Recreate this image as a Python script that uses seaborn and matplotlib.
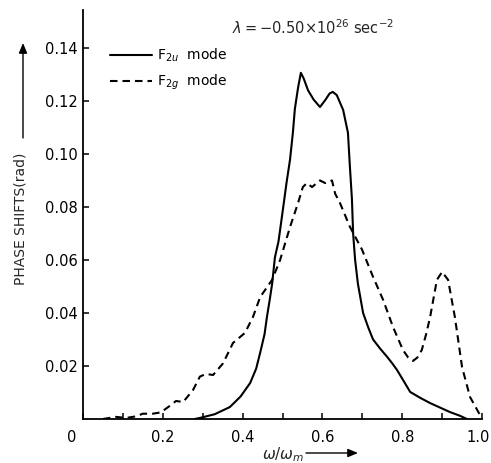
import numpy as np
import pandas as pd
import matplotlib
matplotlib.use("Agg")
import matplotlib.pyplot as plt
import matplotlib.transforms as mtransforms
import seaborn as sns

# ---- data ----
f2u_x = [0.28, 0.293, 0.33, 0.368, 0.395, 0.419, 0.434, 0.444, 0.455, 0.461, 0.468, 0.474,
         0.481, 0.490, 0.501, 0.510, 0.519, 0.526, 0.531, 0.539, 0.546, 0.553, 0.564, 0.578,
         0.594, 0.608, 0.618, 0.626, 0.636, 0.652, 0.664, 0.669, 0.674, 0.677, 0.682, 0.689,
         0.702, 0.715, 0.727, 0.745, 0.762, 0.775, 0.787, 0.803, 0.820, 0.845, 0.870, 0.895,
         0.920, 0.945, 0.962]
f2u_y = [0.0, 0.0004, 0.0018, 0.0045, 0.0085, 0.0136, 0.019, 0.025, 0.032, 0.0385, 0.045, 0.051,
         0.061, 0.067, 0.079, 0.089, 0.098, 0.108, 0.117, 0.125, 0.1306, 0.1285, 0.124, 0.1205,
         0.1177, 0.1205, 0.1228, 0.1234, 0.1222, 0.1166, 0.108, 0.095, 0.083, 0.070, 0.060, 0.051,
         0.040, 0.0345, 0.030, 0.0265, 0.0235, 0.021, 0.0185, 0.0145, 0.0102, 0.008, 0.006, 0.0043,
         0.0026, 0.0012, 0.0]

f2g_x = [0.05, 0.083, 0.108, 0.133, 0.150, 0.175, 0.195, 0.218, 0.233, 0.251, 0.276, 0.293,
         0.308, 0.326, 0.351, 0.376, 0.406, 0.426, 0.444, 0.474, 0.494, 0.519, 0.539, 0.551,
         0.561, 0.574, 0.586, 0.594, 0.607, 0.624, 0.632, 0.644, 0.669, 0.699, 0.727, 0.752,
         0.777, 0.802, 0.815, 0.827, 0.838, 0.849, 0.860, 0.870, 0.887, 0.900, 0.915, 0.932,
         0.950, 0.970, 0.995]
f2g_y = [0.0, 0.0008, 0.0004, 0.001, 0.002, 0.002, 0.0025, 0.005, 0.0068, 0.0064, 0.011, 0.016,
         0.017, 0.0166, 0.021, 0.0287, 0.0325, 0.0385, 0.046, 0.0525, 0.060, 0.0725, 0.0815, 0.0875,
         0.089, 0.0875, 0.089, 0.090, 0.089, 0.090, 0.085, 0.0815, 0.0725, 0.0640, 0.0536, 0.045,
         0.0347, 0.026, 0.0232, 0.0219, 0.0232, 0.026, 0.032, 0.0385, 0.0525, 0.0555, 0.0525, 0.0385,
         0.0196, 0.0083, 0.0015]

modes = ["F$_{2u}$  mode", "F$_{2g}$  mode"]
x_ticks = [0.0, 0.2, 0.4, 0.6, 0.8, 1.0]
x_tick_labels = ["0", "0.2", "0.4", "0.6", "0.8", "1.0"]
y_ticks = [0.02, 0.04, 0.06, 0.08, 0.10, 0.12, 0.14]
y_tick_labels = ["0.02", "0.04", "0.06", "0.08", "0.10", "0.12", "0.14"]

df = pd.concat([
    pd.DataFrame({"w": f2u_x, "phase": f2u_y, "mode": modes[0]}),
    pd.DataFrame({"w": f2g_x, "phase": f2g_y, "mode": modes[1]}),
], ignore_index=True)

sns.set_style("ticks")
plt.rcParams["font.family"] = ["DejaVu Sans"]
plt.rcParams["mathtext.fontset"] = "dejavusans"

W, H = 491, 463
fig = plt.figure(figsize=(W / 100, H / 100), dpi=100)
ax = fig.add_axes([83 / W, (H - 419) / H, (482 - 83) / W, (419 - 10) / H])

sns.lineplot(data=df, x="w", y="phase", hue="mode", style="mode",
             palette={modes[0]: "black", modes[1]: "black"},
             dashes={modes[0]: "", modes[1]: (3.6, 2.4)},
             linewidth=1.5, sort=False, ax=ax)

ax.set_xlim(0, 1.0)
ax.set_ylim(0, 0.1543)
ax.set_xticks(x_ticks)
ax.set_xticklabels(x_tick_labels)
ax.set_xticks([0.1, 0.3, 0.5, 0.7, 0.9], minor=True)
ax.set_yticks(y_ticks)
ax.set_yticklabels(y_tick_labels)
ax.tick_params(axis="both", which="both", direction="in", length=4, width=1.1,
               color="black", labelsize=10.5, labelcolor="black")
ax.tick_params(axis="x", which="major", pad=8)
ax.tick_params(axis="y", which="major", pad=4)
for s in ["top", "right"]:
    ax.spines[s].set_visible(False)
for s in ["left", "bottom"]:
    ax.spines[s].set_linewidth(1.3)
    ax.spines[s].set_color("black")
ax.set_xlabel("")
ax.set_ylabel("")

# shift the "0" origin label left, and keep "1.0" inside the figure
xl = ax.get_xticklabels()
xl[0].set_transform(xl[0].get_transform() +
                    mtransforms.ScaledTranslation(-11 / 100, 0, fig.dpi_scale_trans))
xl[-1].set_transform(xl[-1].get_transform() +
                     mtransforms.ScaledTranslation(-4 / 100, 0, fig.dpi_scale_trans))

leg = ax.legend(loc="upper left", bbox_to_anchor=(27 / 399, (419 - 47) / 409),
                frameon=False, fontsize=10, handlelength=3.0, handletextpad=0.4,
                labelspacing=0.6, borderaxespad=0, borderpad=0)
for t in leg.get_texts():
    t.set_color("black")

fig.text(232 / W, 1 - 28 / H,
         r"$\lambda = \mathrm{-0.50{\times}10^{26}\ sec^{-2}}$",
         fontsize=10.5, ha="left", va="center")

# y-axis label with arrow
fig.text(21 / W, 1 - 219 / H, "PHASE SHIFTS(rad)", rotation=90,
         ha="center", va="center", fontsize=10)
fig.add_artist(matplotlib.patches.FancyArrowPatch(
    (23 / W, 1 - 138 / H), (23 / W, 1 - 43 / H), transform=fig.transFigure,
    arrowstyle="-|>,head_length=6,head_width=2.5", lw=1.0, color="black",
    shrinkA=0, shrinkB=0))

# x-axis label with arrow
fig.text(283 / W, 1 - 455 / H, r"$\omega/\omega_{m}$", ha="center", va="center",
         fontsize=11)
fig.add_artist(matplotlib.patches.FancyArrowPatch(
    (306 / W, 1 - 453 / H), (358 / W, 1 - 453 / H), transform=fig.transFigure,
    arrowstyle="-|>,head_length=6,head_width=2.5", lw=1.0, color="black",
    shrinkA=0, shrinkB=0))

fig.savefig("out.png", dpi=100)
